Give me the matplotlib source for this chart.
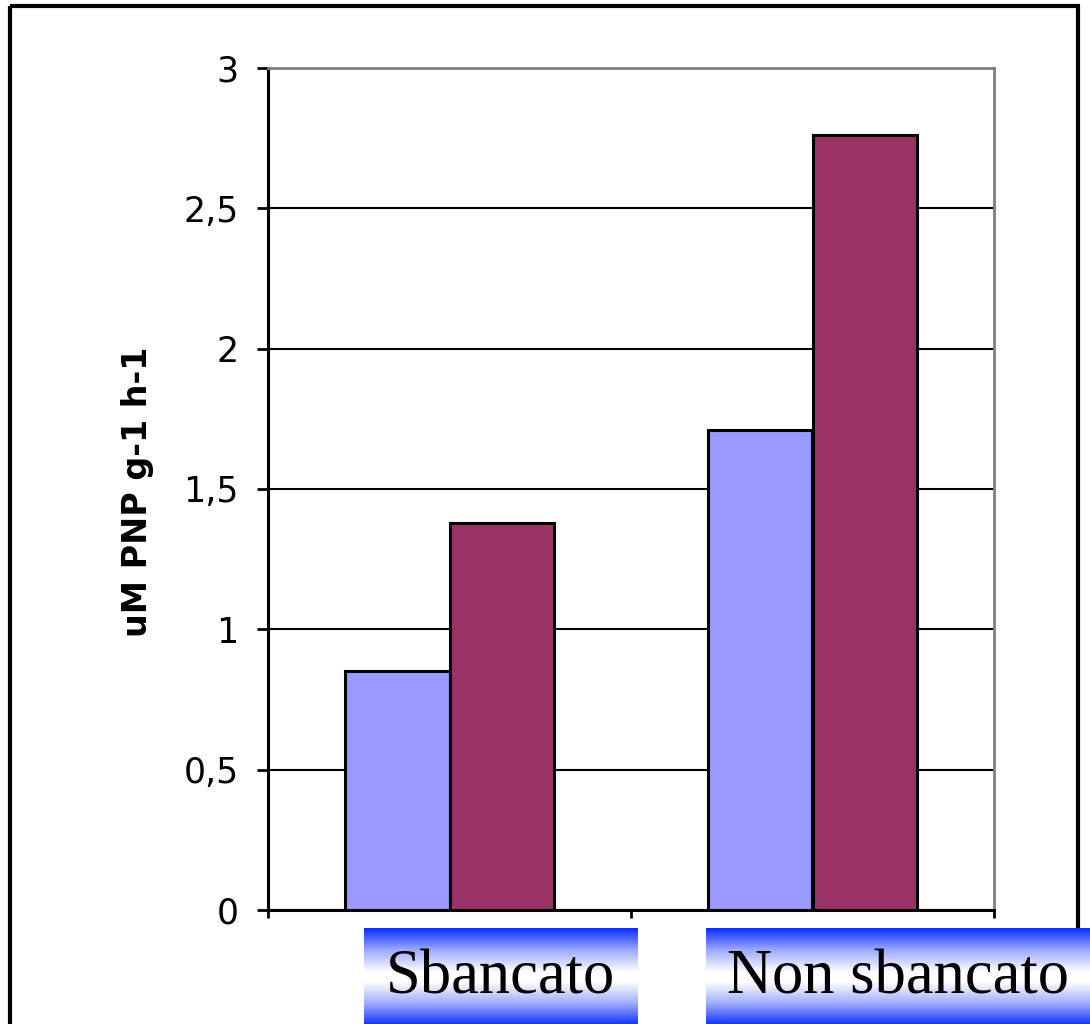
import numpy as np
import matplotlib.pyplot as plt
from matplotlib.colors import LinearSegmentedColormap
from matplotlib.patches import Rectangle
from matplotlib.ticker import FuncFormatter

# Enzyme activity for the two soil treatments
categories = ["Sbancato", "Non sbancato"]
series_a = [0.85, 1.71]
series_b = [1.38, 2.76]
y_ticks = [0, 0.5, 1, 1.5, 2, 2.5, 3]
y_label = "uM PNP g-1 h-1"

W, H = 1090, 1024
fig = plt.figure(figsize=(W / 100, H / 100), dpi=100)

# plot area, pixel box: left 268, right 994, top 68, bottom 910
ax = fig.add_axes([268 / W, 1 - 910 / H, (994 - 268) / W, (910 - 68) / H])

x = np.arange(len(categories))
bar_w = 0.287
ax.bar(x - bar_w / 2, series_a, bar_w, color="#9999FF", edgecolor="black",
       linewidth=2.2, zorder=3)
ax.bar(x + bar_w / 2, series_b, bar_w, color="#993366", edgecolor="black",
       linewidth=2.2, zorder=3)

ax.set_xlim(-0.5, len(categories) - 0.5)
ax.set_ylim(0, 3)
ax.set_yticks(y_ticks)
ax.yaxis.set_major_formatter(
    FuncFormatter(lambda v, _: f"{v:g}".replace(".", ",")))
ax.set_xticks(np.arange(-0.5, len(categories), 1.0))
ax.set_xticklabels([])

ax.yaxis.grid(True, color="black", linewidth=1.5, zorder=0)
ax.set_axisbelow(True)
ax.tick_params(axis="y", direction="out", length=8, width=2,
               labelsize=25, pad=13)
ax.tick_params(axis="x", direction="out", length=6, width=2)
for side in ("left", "bottom"):
    ax.spines[side].set_color("black")
    ax.spines[side].set_linewidth(2.2)
for side in ("top", "right"):
    ax.spines[side].set_color("#808080")
    ax.spines[side].set_linewidth(2)
for lbl in ax.get_yticklabels():
    lbl.set_fontfamily("DejaVu Sans")

fig.text(137 / W, 1 - 492 / H, y_label, rotation=90, ha="center",
         va="center", fontsize=24, fontweight="bold", family="DejaVu Sans")

# overlay in pixel coordinates for the frame and the label boxes
ov = fig.add_axes([0, 0, 1, 1], zorder=5)
ov.set_xlim(0, W)
ov.set_ylim(H, 0)
ov.axis("off")
ov.patch.set_alpha(0)

ov.add_patch(Rectangle((10, 5.5), 1068, 1100, fill=False,
                       edgecolor="black", linewidth=3, clip_on=False))

grad = LinearSegmentedColormap.from_list(
    "band", [(0.0, "#0A2CFF"), (0.22, "#9AA8FF"), (0.45, "#FFFFFF"),
             (0.55, "#FFFFFF"), (0.78, "#9AA8FF"), (1.0, "#0A2CFF")])
ramp = np.linspace(0, 1, 256).reshape(-1, 1)
boxes = [(364, 638), (706, 1090)]
for (x0, x1), name in zip(boxes, categories):
    ov.imshow(ramp, cmap=grad, aspect="auto", extent=(x0, x1, 1026, 928),
              interpolation="bilinear", zorder=2)
    ov.text((x0 + x1) / 2, 978, name, ha="center", va="center",
            fontsize=45, family="Liberation Serif", zorder=3)

ov.set_xlim(0, W)
ov.set_ylim(H, 0)

fig.savefig("out.png", dpi=100)
